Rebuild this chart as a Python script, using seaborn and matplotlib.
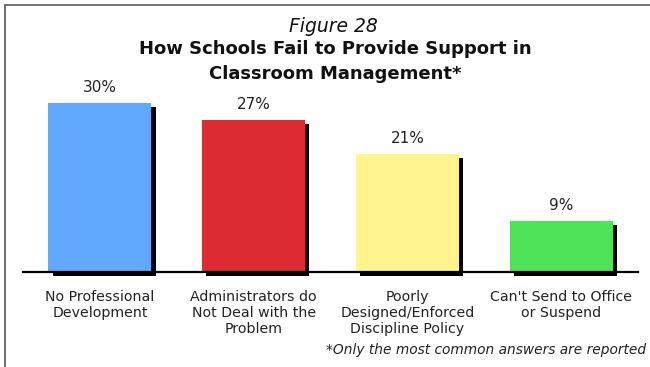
import matplotlib
matplotlib.use("Agg")
import matplotlib.pyplot as plt
import matplotlib.patheffects as pe
from matplotlib.lines import Line2D
import seaborn as sns
import pandas as pd

# Data
categories = ["No Professional\nDevelopment",
              "Administrators do\nNot Deal with the\nProblem",
              "Poorly\nDesigned/Enforced\nDiscipline Policy",
              "Can't Send to Office\nor Suspend"]
values = [30, 27, 21, 9]
colors = ["#62A8FF", "#DC2B32", "#FFF48F", "#4FE35A"]

df = pd.DataFrame({"reason": categories, "pct": values})

sns.set_style("white")
plt.rcParams['font.family'] = ['DejaVu Sans']

fig = plt.figure(figsize=(6.5, 3.67), dpi=100)
ax = fig.add_axes([23 / 650, 95 / 367, 615 / 650, 203 / 367])

sns.barplot(data=df, x="reason", y="pct", hue="reason", palette=colors,
            width=0.67, legend=False, ax=ax, saturation=1)

for bar, v in zip(ax.patches, values):
    bar.set_edgecolor("none")
    bar.set_clip_on(False)
    bar.set_path_effects([pe.SimplePatchShadow(offset=(3, -3), shadow_rgbFace="black", alpha=1),
                          pe.Normal()])
    ax.text(bar.get_x() + bar.get_width() / 2, v + 1.4, f"{v}%",
            ha="center", va="bottom", fontsize=11, color="#222222")

ax.set_xlim(-0.5, 3.5)
ax.set_ylim(0, 36)
ax.set_xlabel("")
ax.set_ylabel("")
ax.set_yticks([])
for s in ["top", "right", "left"]:
    ax.spines[s].set_visible(False)
ax.spines["bottom"].set_linewidth(1.6)
ax.spines["bottom"].set_color("black")
ax.spines["bottom"].set_zorder(5)

ax.tick_params(axis="x", which="major", length=0, labelsize=10.2, pad=13, colors="#222222")
ax.set_xticks([-0.5, 0.5, 1.5, 2.5, 3.5], minor=True)
ax.tick_params(axis="x", which="minor", length=4, width=1, direction="out", color="black")

fig.text(333 / 650, 1 - 26 / 367, "Figure 28", ha="center", va="center", fontsize=13.5,
         style="italic", color="#111111")
fig.text(335 / 650, 1 - 49 / 367, "How Schools Fail to Provide Support in", ha="center",
         va="center", fontsize=13, fontweight="bold", color="#111111")
fig.text(335 / 650, 1 - 74 / 367, "Classroom Management*", ha="center", va="center",
         fontsize=13, fontweight="bold", color="#111111")
fig.text(646 / 650, 1 - 350 / 367, "*Only the most common answers are reported",
         ha="right", va="center", fontsize=9.9, style="italic", color="#222222")

# frame around the figure (only top and left visible in reference)
fig.add_artist(Line2D([5 / 650, 5 / 650], [0, 1 - 5 / 367], color="#555555", lw=1.2))
fig.add_artist(Line2D([5 / 650, 1], [1 - 5 / 367, 1 - 5 / 367], color="#555555", lw=1.2))

fig.savefig("out.png", dpi=100)
